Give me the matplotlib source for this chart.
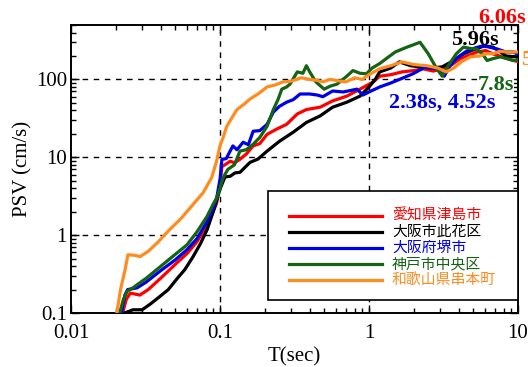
import matplotlib
matplotlib.use("Agg")
import matplotlib.pyplot as plt
from matplotlib.patches import Rectangle
from matplotlib.ticker import FixedLocator, LogLocator, NullFormatter, FixedFormatter

# series data (period T [s], PSV [cm/s])
labels = ["愛知県津島市", "大阪市此花区", "大阪府堺市", "神戸市中央区", "和歌山県串本町"]
colors = ["#ff0000", "#000000", "#0000e6", "#146414", "#ff8c1e"]

t_red = [0.0212, 0.0222, 0.0235, 0.025, 0.029, 0.033, 0.04, 0.05, 0.06, 0.07, 0.082, 0.09, 0.095, 0.1,
         0.103, 0.11, 0.117, 0.125, 0.136, 0.15, 0.167, 0.185, 0.207, 0.24, 0.28, 0.33, 0.38, 0.47, 0.57,
         0.71, 0.87, 1.07, 1.18, 1.4, 1.67, 2.0, 2.3, 2.7, 3.1, 3.6, 4.1, 4.7, 5.3, 6.06, 6.8, 7.8, 9.3, 10]
v_red = [0.05, 0.1, 0.15, 0.18, 0.17, 0.2, 0.28, 0.42, 0.58, 0.82, 1.35, 2.0, 2.6, 4.5,
         7.6, 8.2, 8.9, 8.5, 9.4, 11, 14, 15, 19.7, 23, 26.5, 36, 41, 44, 53,
         61, 75, 93, 110, 115, 125, 130, 137, 128, 137, 155, 185, 205, 225, 235, 213, 195, 175, 170]

t_black = [0.0218, 0.0228, 0.0245, 0.026, 0.03, 0.034, 0.039, 0.045, 0.051, 0.058, 0.066, 0.074, 0.082,
           0.09, 0.1, 0.108, 0.117, 0.126, 0.136, 0.159, 0.18, 0.207, 0.25, 0.31, 0.38, 0.47, 0.57, 0.71,
           0.87, 1.0, 1.1, 1.18, 1.4, 1.6, 1.9, 2.2, 2.6, 3.1, 3.6, 4.3, 5.0, 5.96, 6.8, 7.5, 8.3, 9.9, 10]
v_black = [0.05, 0.1, 0.105, 0.11, 0.11, 0.13, 0.16, 0.2, 0.27, 0.36, 0.53, 0.78, 1.18,
           2.0, 3.9, 5.6, 5.7, 6.3, 6.4, 8.6, 9.5, 12, 16, 21, 28, 34, 44, 51,
           61, 80, 100, 125, 140, 168, 150, 145, 140, 145, 170, 213, 240, 270, 260, 230, 200, 195, 190]

t_blue = [0.0208, 0.0218, 0.023, 0.024, 0.0277, 0.032, 0.04, 0.05, 0.06, 0.07, 0.082, 0.09, 0.095, 0.1,
          0.103, 0.11, 0.122, 0.13, 0.143, 0.155, 0.167, 0.185, 0.207, 0.228, 0.25, 0.28, 0.31, 0.345,
          0.4, 0.45, 0.49, 0.57, 0.67, 0.75, 0.83, 0.91, 1.0, 1.18, 1.4, 1.6, 1.97, 2.4, 2.85, 3.2, 3.5,
          3.85, 4.5, 5.2, 5.8, 6.4, 7.3, 8.3, 9.3, 10]
v_blue = [0.05, 0.1, 0.17, 0.2, 0.21, 0.25, 0.35, 0.48, 0.65, 0.9, 1.5, 2.2, 3.0, 5.2,
          9.4, 9.6, 14, 12.5, 15.6, 14.5, 21.6, 22, 26.5, 38, 45, 51, 55, 65,
          65, 63, 60, 71, 69, 72, 75, 63, 69, 80, 90, 100, 118, 145, 137, 110, 150,
          185, 230, 255, 270, 260, 245, 225, 225, 210]

t_green = [0.0202, 0.0212, 0.0225, 0.0238, 0.026, 0.0277, 0.032, 0.0395, 0.048, 0.06, 0.07, 0.0817, 0.09,
           0.095, 0.1, 0.105, 0.113, 0.125, 0.136, 0.15, 0.167, 0.185, 0.207, 0.228, 0.245, 0.26, 0.28,
           0.295, 0.33, 0.36, 0.38, 0.40, 0.44, 0.5, 0.55, 0.61, 0.71, 0.78, 0.87, 0.96, 1.05, 1.18, 1.33,
           1.5, 1.8, 2.0, 2.2, 2.5, 2.85, 3.1, 3.4, 3.85, 4.3, 4.8, 5.3, 5.8, 6.2, 6.8, 7.6, 8.4, 9.3, 10]
v_green = [0.05, 0.1, 0.15, 0.19, 0.21, 0.23, 0.28, 0.39, 0.53, 0.75, 1.1, 1.73, 2.5,
           3.0, 4.0, 5.5, 7.0, 8.0, 12, 12.5, 14.7, 18, 25, 41, 55, 75, 80,
           87, 125, 120, 150, 125, 93, 75, 82, 87, 110, 130, 120, 118, 140, 160, 190,
           225, 260, 280, 300, 213, 137, 110, 150, 213, 260, 250, 245, 210, 175, 185, 195, 185, 175, 180]

t_orange = [0.0195, 0.0203, 0.0215, 0.023, 0.0241, 0.027, 0.0291, 0.033, 0.038, 0.046, 0.055, 0.065, 0.077,
            0.088, 0.095, 0.1, 0.105, 0.111, 0.12, 0.13, 0.145, 0.159, 0.18, 0.207, 0.235, 0.265, 0.3, 0.35,
            0.4, 0.45, 0.49, 0.55, 0.62, 0.7, 0.8, 0.9, 1.0, 1.18, 1.4, 1.67, 2.0, 2.44, 2.9, 3.3, 3.7, 4.2,
            4.8, 5.5, 6.2, 6.8, 7.5, 8.5, 10]
v_orange = [0.05, 0.1, 0.2, 0.35, 0.56, 0.55, 0.53, 0.62, 0.8, 1.18, 1.65, 2.4, 3.5,
            5.5, 9, 14, 18, 25, 32, 41, 48, 56, 65, 80, 85, 93, 95, 105,
            100, 97, 93, 100, 96, 93, 105, 100, 115, 137, 150, 168, 155, 150, 140, 125, 140, 170,
            195, 200, 215, 213, 230, 225, 225]

series_t = [t_red, t_black, t_blue, t_green, t_orange]
series_v = [v_red, v_black, v_blue, v_green, v_orange]

serif = "Liberation Serif"
W, H = 528, 367

fig = plt.figure(figsize=(W / 100, H / 100), dpi=100)
ax = fig.add_axes([71 / W, 1 - 313 / H, 447 / W, 288 / H])

for t, v, c, lab in zip(series_t, series_v, colors, labels):
    ax.plot(t, v, color=c, lw=2.3, label=lab, zorder=3)

ax.set_xscale("log")
ax.set_yscale("log")
ax.set_xlim(0.01, 10)
ax.set_ylim(0.1, 500)

ax.xaxis.set_major_locator(FixedLocator([0.01, 0.1, 1, 10]))
ax.xaxis.set_major_formatter(FixedFormatter(["0.01", "0.1", "1", "10"]))
ax.yaxis.set_major_locator(FixedLocator([0.1, 1, 10, 100]))
ax.yaxis.set_major_formatter(FixedFormatter(["0.1", "1", "10", "100"]))
for axis in (ax.xaxis, ax.yaxis):
    axis.set_minor_locator(LogLocator(base=10, subs=range(2, 10), numticks=20))
    axis.set_minor_formatter(NullFormatter())

ax.tick_params(which="both", direction="in", top=True, right=True, labelsize=15, width=1)
ax.tick_params(which="major", length=6)
ax.tick_params(which="minor", length=3.5)
ax.tick_params(axis="x", pad=8)
ax.tick_params(axis="y", pad=3)
for lbl in ax.get_xticklabels() + ax.get_yticklabels():
    lbl.set_family(serif)
for s in ax.spines.values():
    s.set_linewidth(1.4)

# dashed grid at inner decades
for xv in (0.1, 1):
    ax.axvline(xv, color="black", lw=1, ls=(0, (4, 4)), zorder=1)
for yv in (1, 10, 100):
    ax.axhline(yv, color="black", lw=1, ls=(0, (4, 4)), zorder=1)

ax.set_xlabel("T(sec)", family=serif, fontsize=15, labelpad=3)
ax.set_ylabel("PSV (cm/s)", family=serif, fontsize=15, labelpad=2)

# legend box, drawn by hand so the spacing follows the reference
def fx(px):
    return px / W

def fy(py):
    return 1 - py / H

fig.patches.append(Rectangle((fx(268), fy(300)), (518 - 268) / W, (300 - 191) / H,
                             transform=fig.transFigure, facecolor="white", edgecolor="black",
                             lw=1.2, zorder=5))
for i, (lab, c) in enumerate(zip(labels, colors)):
    row = 216 + 16 * i
    fig.lines.append(plt.Line2D([fx(289), fx(382)], [fy(row), fy(row)], color=c, lw=2.3,
                                transform=fig.transFigure, zorder=6))
    fig.text(fx(392), fy(row), lab, color=c, fontsize=10.7, family="Noto Sans CJK JP",
             ha="left", va="center", zorder=6)

# peak period annotations
def note(px, py, s, c, ha="center", box=False):
    kw = {}
    if box:
        kw["bbox"] = dict(facecolor="white", edgecolor="none", pad=0)
    fig.text(fx(px), fy(py), s, color=c, fontsize=16, fontweight="bold",
             family=serif, ha=ha, va="center", zorder=7, **kw)

note(502, 18, "6.06s", colors[0])
note(475, 40, "5.96s", colors[1])
note(496, 85, "7.8s", colors[3], box=True)
note(442, 103, "2.38s, 4.52s", colors[2])
note(521, 60, "5.xxs", colors[4], ha="left")

fig.savefig("out.png", dpi=100)
